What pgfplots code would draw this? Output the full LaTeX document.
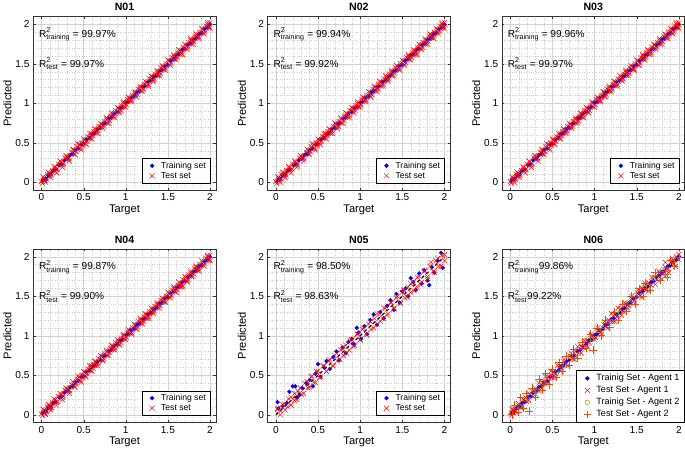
\documentclass[border=0pt]{standalone}
\usepackage{pgfplots}
\pgfplotsset{compat=1.18}
\usepackage{pgfplotstable}
\usepgfplotslibrary{groupplots}
\usepackage{amsmath}
\usepackage{fontspec}
\setmainfont{Liberation Sans}
\setsansfont{Liberation Sans}

\definecolor{mred}{rgb}{1,0,0}
\definecolor{mblue}{rgb}{0,0,1}
\definecolor{mgreen}{rgb}{0.47,0.67,0.19}
\definecolor{morange}{rgb}{0.85,0.325,0.098}

% low-noise training set
\pgfplotstableread{
x y
0.02 0.03
0.05 0.04
0.08 0.09
0.11 0.10
0.14 0.15
0.17 0.16
0.21 0.22
0.24 0.23
0.27 0.28
0.31 0.30
0.34 0.35
0.37 0.36
0.40 0.41
0.44 0.43
0.47 0.48
0.50 0.49
0.53 0.54
0.57 0.56
0.60 0.61
0.63 0.62
0.66 0.67
0.70 0.69
0.73 0.74
0.76 0.75
0.80 0.81
0.83 0.82
0.86 0.87
0.90 0.89
0.93 0.94
0.96 0.95
1.00 1.01
1.03 1.02
1.06 1.07
1.10 1.09
1.13 1.14
1.16 1.15
1.20 1.21
1.23 1.22
1.26 1.27
1.30 1.29
1.33 1.34
1.36 1.35
1.40 1.41
1.43 1.42
1.46 1.47
1.50 1.49
1.53 1.54
1.57 1.56
1.60 1.61
1.63 1.62
1.67 1.68
1.70 1.69
1.73 1.74
1.77 1.76
1.80 1.81
1.83 1.82
1.87 1.88
1.90 1.89
1.93 1.94
1.97 1.96
2.00 2.00
}\trainA

% low-noise test set
\pgfplotstableread{
x y
0.00 0.01
0.04 0.02
0.07 0.10
0.10 0.08
0.13 0.15
0.18 0.16
0.20 0.23
0.25 0.22
0.28 0.31
0.32 0.30
0.36 0.38
0.39 0.36
0.42 0.45
0.46 0.43
0.48 0.50
0.52 0.49
0.55 0.58
0.58 0.56
0.62 0.64
0.65 0.62
0.68 0.71
0.72 0.70
0.75 0.77
0.78 0.75
0.82 0.84
0.85 0.83
0.88 0.91
0.92 0.89
0.95 0.97
0.98 0.96
1.02 1.05
1.05 1.03
1.08 1.10
1.12 1.09
1.15 1.18
1.18 1.16
1.22 1.24
1.25 1.22
1.28 1.31
1.32 1.30
1.35 1.37
1.38 1.35
1.42 1.45
1.45 1.43
1.48 1.50
1.52 1.49
1.55 1.58
1.58 1.56
1.62 1.64
1.65 1.62
1.68 1.71
1.72 1.70
1.75 1.77
1.78 1.75
1.82 1.85
1.85 1.83
1.88 1.90
1.92 1.89
1.95 1.98
1.98 1.96
2.00 2.02
}\testA

% second low-noise test batch
\pgfplotstableread{
x y
0.01 -0.01
0.03 0.06
0.06 0.04
0.09 0.12
0.12 0.09
0.16 0.19
0.19 0.17
0.23 0.26
0.26 0.24
0.30 0.33
0.33 0.31
0.38 0.41
0.41 0.39
0.45 0.48
0.49 0.47
0.51 0.54
0.54 0.52
0.59 0.62
0.61 0.59
0.64 0.67
0.67 0.65
0.71 0.74
0.74 0.71
0.77 0.80
0.81 0.78
0.84 0.87
0.87 0.85
0.91 0.94
0.94 0.91
0.97 1.00
1.01 0.98
1.04 1.07
1.07 1.04
1.11 1.14
1.14 1.11
1.17 1.20
1.21 1.18
1.24 1.27
1.27 1.24
1.31 1.34
1.34 1.31
1.37 1.40
1.41 1.38
1.44 1.47
1.47 1.44
1.51 1.54
1.54 1.51
1.57 1.60
1.61 1.58
1.64 1.67
1.67 1.64
1.71 1.74
1.74 1.71
1.77 1.80
1.81 1.78
1.84 1.87
1.87 1.84
1.91 1.94
1.94 1.91
1.97 2.00
1.99 1.97
}\testAA

% third test batch, wider spread
\pgfplotstableread{
x y
0.02 0.07
0.05 0.00
0.08 0.13
0.11 0.06
0.15 0.20
0.18 0.12
0.22 0.27
0.25 0.19
0.29 0.34
0.33 0.27
0.37 0.42
0.40 0.35
0.43 0.49
0.47 0.41
0.50 0.55
0.53 0.48
0.57 0.62
0.60 0.55
0.63 0.68
0.67 0.62
0.70 0.75
0.73 0.68
0.77 0.82
0.80 0.75
0.83 0.88
0.87 0.82
0.90 0.95
0.93 0.88
0.97 1.02
1.00 0.95
1.03 1.08
1.07 1.02
1.10 1.15
1.13 1.08
1.17 1.22
1.20 1.15
1.23 1.28
1.27 1.22
1.30 1.35
1.33 1.28
1.37 1.42
1.40 1.35
1.43 1.48
1.47 1.42
1.50 1.55
1.53 1.48
1.57 1.62
1.60 1.55
1.63 1.68
1.67 1.62
1.70 1.75
1.73 1.68
1.77 1.82
1.80 1.75
1.83 1.88
1.87 1.82
1.90 1.95
1.93 1.88
1.97 2.02
2.00 1.95
}\testAB

% N05 training
\pgfplotstableread{
x y
0.02 0.16
0.03 0.08
0.08 0.11
0.13 0.15
0.16 0.29
0.20 0.36
0.23 0.36
0.25 0.22
0.28 0.25
0.31 0.34
0.36 0.40
0.40 0.44
0.44 0.36
0.47 0.52
0.50 0.64
0.53 0.48
0.57 0.60
0.60 0.68
0.64 0.58
0.68 0.73
0.72 0.80
0.75 0.69
0.79 0.85
0.83 0.78
0.86 0.92
0.90 0.96
0.93 0.89
0.96 1.10
0.98 1.04
1.01 0.96
1.05 1.12
1.08 1.02
1.12 1.20
1.16 1.27
1.20 1.14
1.24 1.30
1.28 1.22
1.32 1.38
1.36 1.45
1.40 1.33
1.43 1.53
1.47 1.42
1.50 1.56
1.54 1.60
1.57 1.50
1.60 1.73
1.63 1.68
1.66 1.58
1.70 1.79
1.73 1.66
1.76 1.83
1.80 1.70
1.82 1.64
1.85 1.87
1.88 1.80
1.92 1.95
1.96 2.05
1.98 1.86
}\trainB

% N05 test
\pgfplotstableread{
x y
0.02 0.08
0.06 0.05
0.10 0.14
0.14 0.10
0.18 0.22
0.22 0.18
0.26 0.30
0.30 0.26
0.34 0.40
0.38 0.34
0.42 0.48
0.45 0.41
0.48 0.55
0.52 0.47
0.56 0.62
0.60 0.55
0.64 0.70
0.68 0.62
0.72 0.78
0.76 0.70
0.80 0.86
0.84 0.78
0.88 0.94
0.92 0.86
0.96 1.02
1.00 0.95
1.04 1.10
1.08 1.01
1.12 1.18
1.16 1.10
1.20 1.28
1.24 1.18
1.28 1.35
1.32 1.26
1.36 1.42
1.40 1.34
1.44 1.50
1.48 1.41
1.52 1.58
1.56 1.49
1.60 1.66
1.64 1.57
1.68 1.74
1.72 1.65
1.76 1.82
1.80 1.72
1.84 1.93
1.88 1.80
1.92 1.98
1.96 1.88
2.00 2.03
}\testB

% N06 agent 2 training
\pgfplotstableread{
x y
0.01 0.02
0.06 0.08
0.12 0.10
0.17 0.20
0.22 0.19
0.28 0.31
0.33 0.30
0.38 0.41
0.44 0.42
0.49 0.52
0.55 0.53
0.60 0.63
0.65 0.62
0.71 0.74
0.76 0.73
0.82 0.85
0.87 0.85
0.93 0.96
0.98 0.96
1.04 1.07
1.09 1.07
1.15 1.18
1.20 1.18
1.26 1.29
1.31 1.29
1.37 1.40
1.42 1.40
1.48 1.51
1.53 1.51
1.59 1.62
1.64 1.62
1.70 1.73
1.75 1.73
1.81 1.84
1.86 1.84
1.92 1.95
1.97 1.96
}\trainC

% N06 agent 2 test
\pgfplotstableread{
x y
0.02 0.00
0.05 0.12
0.09 0.03
0.12 0.22
0.15 0.08
0.19 0.27
0.22 0.05
0.26 0.34
0.30 0.22
0.34 0.45
0.38 0.31
0.42 0.52
0.46 0.38
0.50 0.58
0.54 0.47
0.58 0.66
0.62 0.55
0.66 0.74
0.70 0.63
0.75 0.83
0.80 0.72
0.85 0.92
0.90 0.84
0.95 1.02
0.98 0.82
1.03 1.10
1.08 1.00
1.13 1.20
1.18 1.11
1.23 1.30
1.28 1.20
1.33 1.40
1.38 1.31
1.43 1.50
1.48 1.40
1.53 1.60
1.58 1.50
1.60 1.67
1.66 1.58
1.72 1.80
1.78 1.70
1.84 1.78
1.86 1.74
1.90 1.95
1.95 1.88
2.00 2.00
}\testC

\pgfplotsset{
  panel/.style={
    scale only axis, width=181pt, height=172pt,
    xmin=-0.1, xmax=2.07, ymin=-0.1, ymax=2.1,
    xtick={0,0.5,1,1.5,2}, ytick={0,0.5,1,1.5,2},
    xticklabels={0,0.5,1,1.5,2}, yticklabels={0,0.5,1,1.5,2},
    minor tick num=4,
    grid=both,
    major grid style={gray!35, line width=0.4pt},
    minor grid style={gray!40, dotted, line width=0.35pt},
    tick align=inside, major tick length=2.5pt, minor tick length=0pt,
    axis line style={black!80, line width=0.5pt},
    tick style={black!80},
    tick label style={font=\fontsize{10}{12}\selectfont},
    label style={font=\fontsize{11}{13}\selectfont},
    title style={font=\fontsize{10.5}{12}\selectfont\bfseries, yshift=-4pt},
    xlabel={Target}, ylabel={Predicted},
    xlabel style={yshift=3pt}, ylabel style={yshift=-3pt},
    legend cell align=left,
    legend style={font=\fontsize{8.5}{10}\selectfont, draw=black, line width=0.4pt,
      fill=white, at={(0.97,0.04)}, anchor=south east, row sep=-1.5pt,
      inner sep=1.5pt, nodes={inner xsep=3pt}},
    legend image code/.code={\path (0cm,0cm) (0.5cm,0cm); \draw[#1] plot coordinates {(0.3cm,0cm)};},
    legend image post style={line width=0.5pt},
  },
  trn/.style={only marks, mark=*, mark size=1.9pt, color=mblue},
  tst/.style={only marks, mark=x, mark size=3.5pt, color=mred, line width=0.45pt},
}

\newcommand{\diag}{\addplot[black, dashed, line width=1.2pt, forget plot] coordinates {(0,0) (2,2)};}
\newcommand{\rtxt}[2]{%
  \node[anchor=west, font=\fontsize{10}{12}\selectfont, inner sep=0pt] at (axis cs:-0.03,1.87) {$\text{R}^{\text{2}}_{\text{training}}$#1};
  \node[anchor=west, font=\fontsize{10}{12}\selectfont, inner sep=0pt] at (axis cs:-0.03,1.5) {$\text{R}^{\text{2}}_{\text{test}}$#2};}

\begin{document}
\begin{tikzpicture}
\begin{groupplot}[group style={group size=3 by 2, horizontal sep=51pt, vertical sep=58pt}, panel]
\nextgroupplot[title={N01}]
\addplot[trn] table {\trainA};
\addplot[tst] table {\testA};
\addplot[tst, forget plot] table {\testAA};
\addplot[tst, forget plot] table {\testAB};
\diag
\rtxt{ = 99.97\%}{ = 99.97\%}
\legend{Training set, Test set}

\nextgroupplot[title={N02}]
\addplot[trn] table {\trainA};
\addplot[tst] table {\testA};
\addplot[tst, forget plot] table {\testAA};
\addplot[tst, forget plot] table {\testAB};
\diag
\rtxt{ = 99.94\%}{ = 99.92\%}
\legend{Training set, Test set}

\nextgroupplot[title={N03}]
\addplot[trn] table {\trainA};
\addplot[tst] table {\testA};
\addplot[tst, forget plot] table {\testAA};
\addplot[tst, forget plot] table {\testAB};
\diag
\rtxt{ = 99.96\%}{ = 99.97\%}
\legend{Training set, Test set}

\nextgroupplot[title={N04}]
\addplot[trn] table {\trainA};
\addplot[tst] table {\testA};
\addplot[tst, forget plot] table {\testAA};
\addplot[tst, forget plot] table {\testAB};
\diag
\rtxt{ = 99.87\%}{ = 99.90\%}
\legend{Training set, Test set}

\nextgroupplot[title={N05}]
\addplot[trn] table {\trainB};
\addplot[tst] table {\testB};
\addplot[tst, forget plot] table {\testAB};
\diag
\rtxt{ = 98.50\%}{ = 98.63\%}
\legend{Training set, Test set}

\nextgroupplot[title={N06}, legend style={at={(1,0)}, anchor=south east, font=\fontsize{9}{11}\selectfont, row sep=0pt, inner sep=2pt}]
\addplot[trn] table {\trainA};
\addplot[tst] table {\testB};
\addplot[only marks, mark=o, mark size=2.3pt, color=mgreen, line width=0.45pt] table {\trainC};
\addplot[only marks, mark=+, mark size=3.8pt, color=morange, line width=0.5pt] table {\testC};
\addplot[tst, forget plot] table {\testAA};
\diag
\rtxt{99.86\%}{99.22\%}
\legend{Trainig Set - Agent 1, Test Set - Agent 1, Trainig Set - Agent 2, Test Set - Agent 2}
\end{groupplot}
\end{tikzpicture}
\end{document}
